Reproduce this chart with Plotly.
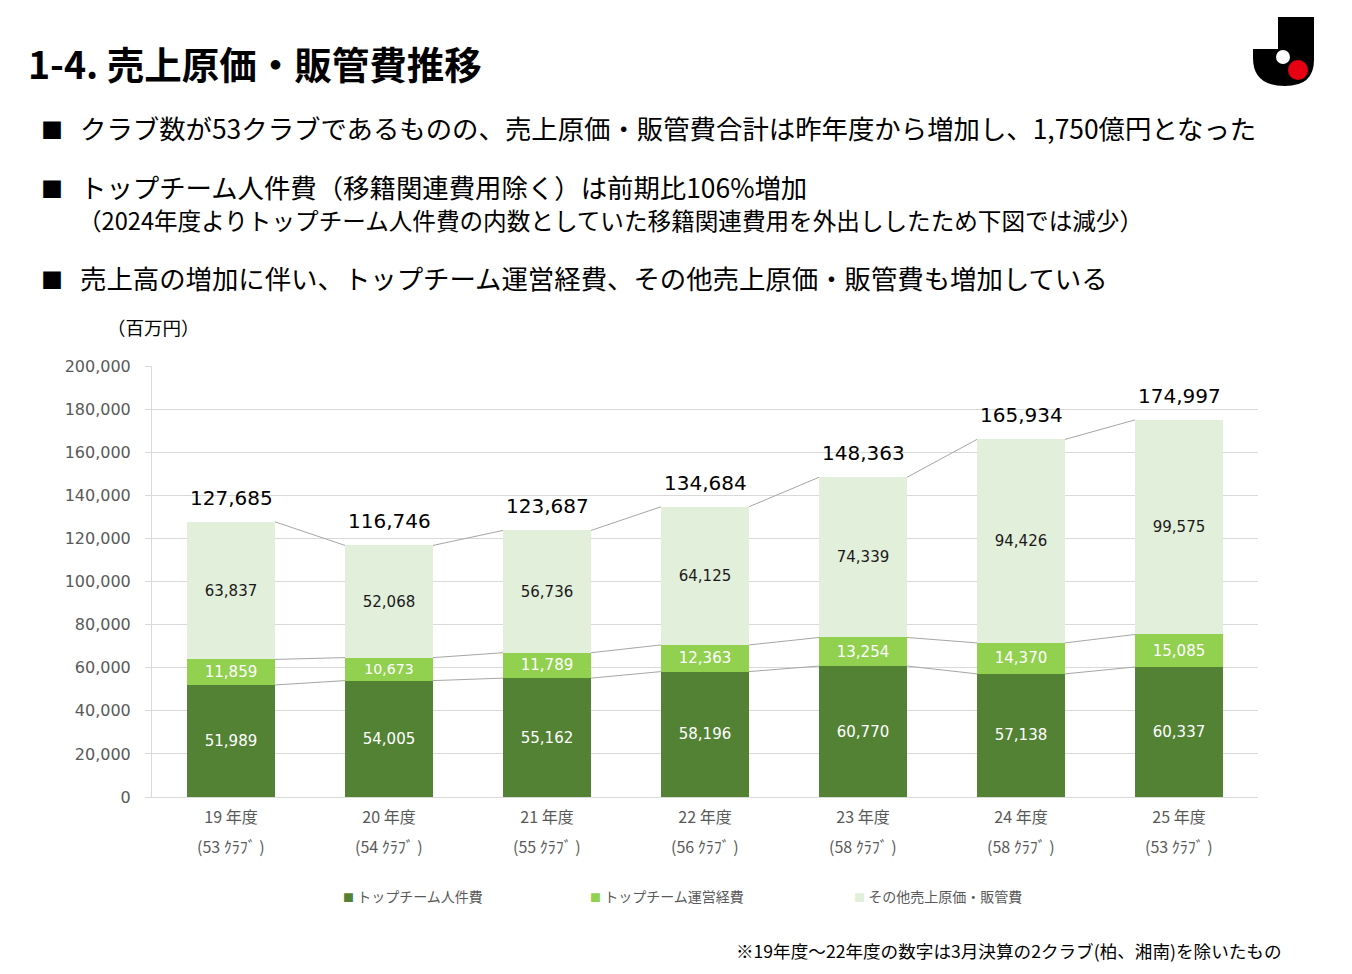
import plotly.graph_objects as go

# data (百万円)
years = ["19 年度", "20 年度", "21 年度", "22 年度", "23 年度", "24 年度", "25 年度"]
clubs = [53, 54, 55, 56, 58, 58, 53]
personnel = [51989, 54005, 55162, 58196, 60770, 57138, 60337]
operating = [11859, 10673, 11789, 12363, 13254, 14370, 15085]
other = [63837, 52068, 56736, 64125, 74339, 94426, 99575]
totals = [127685, 116746, 123687, 134684, 148363, 165934, 174997]
series_names = ["トップチーム人件費", "トップチーム運営経費", "その他売上原価・販管費"]
colors = ["#548235", "#92D050", "#E2EFDA"]

# the page puts the figure 8px in from the corner, so work in screen pixels and shift
O = 8
W, H = 1352 - 2 * O, 974 - 2 * O
L, T = 152 - O, 366 - O
R = W - (1258 - O)
B = H - (797 - O)
bar_w = 0.557
jp = "Noto Sans CJK JP"
num = "DejaVu Sans, Noto Sans CJK JP"


# screen pixel -> paper helpers for the page furniture
def pxx(x):
    return (x - O - L) / (W - L - R)


def pxy(y):
    return (H - B - (y - O)) / (H - T - B)


xs = list(range(len(years)))

fig = go.Figure()
seg_text_colors = ["white", "white", "#1a1a1a"]
for name, vals, col, tc in zip(series_names, [personnel, operating, other], colors, seg_text_colors):
    fig.add_trace(go.Bar(
        x=xs, y=vals, name=name, width=bar_w,
        marker=dict(color=col, line=dict(width=0)),
        text=[f"{v:,}" for v in vals], textposition="inside",
        insidetextanchor="middle", textangle=0,
        textfont=dict(family=num, size=15, color=tc),
        showlegend=False,
    ))

# series lines between bars (Excel style)
level1 = personnel
level2 = [a + b for a, b in zip(personnel, operating)]
lx, ly = [], []
for lvl in [level1, level2, totals]:
    for i in range(len(xs) - 1):
        lx += [xs[i] + bar_w / 2, xs[i + 1] - bar_w / 2, None]
        ly += [lvl[i], lvl[i + 1], None]
fig.add_trace(go.Scatter(x=lx, y=ly, mode="lines", line=dict(color="#A6A6A6", width=1),
                         showlegend=False, hoverinfo="skip"))

ann = []
# totals above bars
for x, t in zip(xs, totals):
    ann.append(dict(x=x, y=t, xref="x", yref="y", text=f"{t:,}", showarrow=False,
                    yanchor="bottom", yshift=10, font=dict(family=num, size=20, color="#000")))

# second line of the category labels (club counts)
for x, c in zip(xs, clubs):
    ann.append(dict(x=x, y=pxy(846), xref="x", yref="paper", yanchor="middle",
                    text=f"({c} ｸﾗﾌﾞ )", showarrow=False,
                    font=dict(family=jp, size=16, color="#595959")))

# title and bullets
ann.append(dict(x=pxx(26), y=pxy(62), xref="paper", yref="paper", xanchor="left", yanchor="middle",
                text="<b>1-4. 売上原価・販管費推移</b>", showarrow=False,
                font=dict(family=jp, size=37.5, color="#000")))
bullets = [
    (128, "クラブ数が53クラブであるものの、売上原価・販管費合計は昨年度から増加し、1,750億円となった"),
    (187, "トップチーム人件費（移籍関連費用除く）は前期比106%増加"),
    (278, "売上高の増加に伴い、トップチーム運営経費、その他売上原価・販管費も増加している"),
]
for y, txt in bullets:
    ann.append(dict(x=pxx(39), y=pxy(y), xref="paper", yref="paper", xanchor="left", yanchor="middle",
                    text="■", showarrow=False, font=dict(family=jp, size=22, color="#000")))
    ann.append(dict(x=pxx(78), y=pxy(y), xref="paper", yref="paper", xanchor="left", yanchor="middle",
                    text=txt, showarrow=False, font=dict(family=jp, size=26.4, color="#000")))
ann.append(dict(x=pxx(76), y=pxy(220), xref="paper", yref="paper", xanchor="left", yanchor="middle",
                text="（2024年度よりトップチーム人件費の内数としていた移籍関連費用を外出ししたため下図では減少）",
                showarrow=False, font=dict(family=jp, size=23.6, color="#000")))
ann.append(dict(x=pxx(105), y=pxy(327), xref="paper", yref="paper", xanchor="left", yanchor="middle",
                text="（百万円）", showarrow=False, font=dict(family=jp, size=18.5, color="#000")))
ann.append(dict(x=pxx(1284), y=pxy(950), xref="paper", yref="paper", xanchor="right", yanchor="middle",
                text="※19年度～22年度の数字は3月決算の2クラブ(柏、湘南)を除いたもの",
                showarrow=False, font=dict(family=jp, size=17.6, color="#000")))

# legend drawn by hand
for lx0, name, col in zip([341, 588, 852], series_names, colors):
    ann.append(dict(x=pxx(lx0), y=pxy(896), xref="paper", yref="paper", xanchor="left", yanchor="middle",
                    text=f"<span style='color:{col};font-size:11px'>■</span> {name}", showarrow=False,
                    font=dict(family=jp, size=14, color="#595959")))

# J logo
shapes = []
p = lambda x, y: f"{pxx(x):.5f},{pxy(y):.5f}"
shapes.append(dict(type="path", xref="paper", yref="paper", fillcolor="#000", line=dict(width=0),
                   path=f"M{p(1278,17)} L{p(1314,17)} L{p(1314,60)} Q{p(1314,86)} {p(1285,86)} "
                        f"Q{p(1253,86)} {p(1253,58)} L{p(1253,49)} L{p(1278,49)} Z"))
shapes.append(dict(type="circle", xref="paper", yref="paper", fillcolor="#fff", line=dict(width=0),
                   x0=pxx(1276), x1=pxx(1290), y0=pxy(50), y1=pxy(64)))
shapes.append(dict(type="circle", xref="paper", yref="paper", fillcolor="#E60012", line=dict(width=0),
                   x0=pxx(1288), x1=pxx(1308), y0=pxy(60), y1=pxy(80)))

fig.update_layout(
    width=W, height=H, barmode="stack",
    margin=dict(l=L, r=R, t=T, b=B),
    plot_bgcolor="white", paper_bgcolor="white",
    annotations=ann, shapes=shapes,
    xaxis=dict(range=[-0.5, len(years) - 0.5], tickvals=xs, ticktext=years,
               tickfont=dict(family=jp, size=16, color="#595959"),
               showline=True, linecolor="#D9D9D9", showgrid=False, zeroline=False,
               ticks="", ticklabelstandoff=6),
    yaxis=dict(range=[0, 200000], dtick=20000, tickformat=",d",
               tickfont=dict(family=num, size=16, color="#595959"),
               showline=True, linecolor="#D9D9D9", gridcolor="#D9D9D9", zeroline=False,
               ticks="outside", ticklen=6, tickcolor="#D9D9D9", ticklabelstandoff=11),
)

fig.write_html("out.html")
